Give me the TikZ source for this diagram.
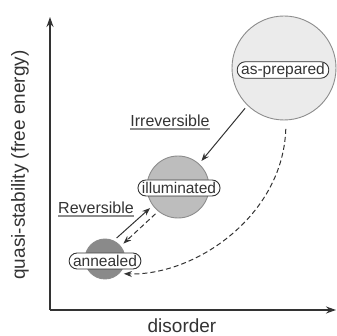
\documentclass[tikz,border=0pt]{standalone}
\usepackage{fontspec}
\setmainfont{Liberation Sans}
\usetikzlibrary{arrows.meta}
\definecolor{ink}{HTML}{333333}
\definecolor{rim}{HTML}{8C8C8C}
\begin{document}
\begin{tikzpicture}[x=1pt,y=1pt,
  state/.style={circle,draw=rim,line width=0.9pt,inner sep=0pt,outer sep=4pt},
  tag/.style={draw=ink,line width=0.9pt,fill=white,rounded corners=8pt,inner xsep=4pt,inner ysep=1pt,minimum height=16pt,text=ink,font=\fontsize{15.5}{16}\selectfont},
  word/.style={text=ink,font=\fontsize{16}{17}\selectfont,inner sep=0pt},
  axlab/.style={text=ink,font=\fontsize{19}{20}\selectfont,inner sep=0pt},
  flow/.style={ink,line width=1pt,-{Stealth[length=8pt,width=6pt]}},
  dashy/.style={dash pattern=on 5pt off 3pt},
  axis/.style={ink,line width=1.5pt,-{Stealth[length=10pt,width=7pt]}}]
\useasboundingbox (0,0) rectangle (336,336);
\coordinate (o) at (50,26);
\coordinate (ytop) at (50,319);
\coordinate (xend) at (336,26);
\draw[axis] (o) -- (ytop);
\draw[axis] (o) -- (xend);
\node[axlab,rotate=90] (ylab) at (20,171) {quasi-stability (free energy)};
\node[axlab] (xlab) at (182,10) {disorder};

\node[state,fill=black!8,minimum size=104pt] (ap) at (284,268) {};
\node[state,fill=black!26,minimum size=62pt] (il) at (178,149) {};
\node[state,fill=black!46,minimum size=40pt] (an) at (105,77) {};

\node[tag] (apl) at (283,266) {as-prepared};
\node[tag] (ill) at (179,148) {illuminated};
\node[tag] (anl) at (105,75) {annealed};

\node[word] (irr) at (170,215) {Irreversible};
\draw[rim,line width=1.3pt] ([yshift=-2pt]irr.south west) -- ([yshift=-2pt]irr.south east);
\node[word] (rev) at (96,128) {Reversible};
\draw[rim,line width=1.3pt] ([yshift=-2pt]rev.south west) -- ([yshift=-2pt]rev.south east);

\draw[flow] (ap.226) -- (il.48);
\draw[flow] (an.61) -- (il.217);
\draw[flow,dashy] (il.230) -- (an.40);
\draw[flow,dashy,shorten <=5pt] (ap.-88) .. controls (283,120) and (195,60) .. (an.-38);
\end{tikzpicture}
\end{document}
